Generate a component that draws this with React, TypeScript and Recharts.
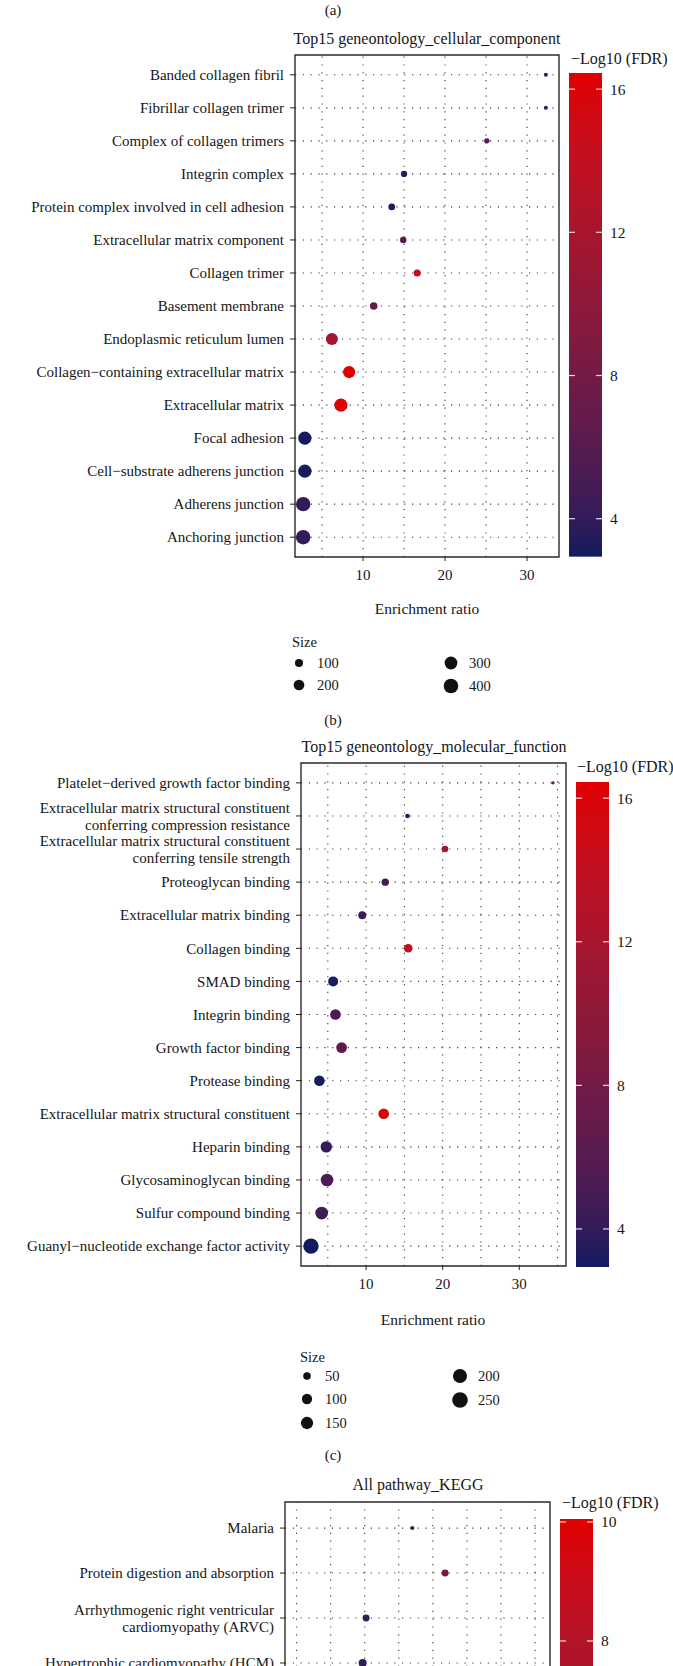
import React from 'react';
import {
  Cell,
  ReferenceArea,
  ReferenceLine,
  Scatter,
  ScatterChart,
  XAxis,
  YAxis,
  ZAxis,
} from 'recharts';

const FONT = '"Liberation Serif", "DejaVu Serif", serif';
const INK = '#161616';

// (b) geneontology cellular component, listed top to bottom
const ccTerms = [
  'Banded collagen fibril',
  'Fibrillar collagen trimer',
  'Complex of collagen trimers',
  'Integrin complex',
  'Protein complex involved in cell adhesion',
  'Extracellular matrix component',
  'Collagen trimer',
  'Basement membrane',
  'Endoplasmic reticulum lumen',
  'Collagen−containing extracellular matrix',
  'Extracellular matrix',
  'Focal adhesion',
  'Cell−substrate adherens junction',
  'Adherens junction',
  'Anchoring junction',
];
const ccRatio = [32.3, 32.3, 25.1, 15.0, 13.5, 14.9, 16.6, 11.3, 6.2, 8.3, 7.3, 2.9, 2.9, 2.7, 2.7];
const ccSize = [19, 20, 48, 70, 80, 75, 95, 110, 300, 310, 370, 370, 375, 440, 450];
const ccFdr = [4.0, 4.0, 6.0, 3.5, 3.3, 6.0, 14.5, 7.0, 11.5, 16.4, 16.2, 3.0, 3.1, 4.0, 4.1];
const ccSizeBreaks = [100, 200, 300, 400];

// (c) geneontology molecular function
const mfTerms = [
  'Platelet−derived growth factor binding',
  'Extracellular matrix structural constituent\nconferring compression resistance',
  'Extracellular matrix structural constituent\nconferring tensile strength',
  'Proteoglycan binding',
  'Extracellular matrix binding',
  'Collagen binding',
  'SMAD binding',
  'Integrin binding',
  'Growth factor binding',
  'Protease binding',
  'Extracellular matrix structural constituent',
  'Heparin binding',
  'Glycosaminoglycan binding',
  'Sulfur compound binding',
  'Guanyl−nucleotide exchange factor activity',
];
const mfRatio = [34.4, 15.4, 20.3, 12.5, 9.5, 15.5, 5.7, 6.0, 6.8, 3.9, 12.3, 4.8, 4.9, 4.2, 2.8];
const mfSize = [10, 21, 47, 60, 70, 82, 112, 126, 130, 125, 128, 147, 180, 185, 270];
const mfFdr = [7.8, 3.3, 11.5, 5.0, 4.6, 13.8, 3.2, 5.5, 6.5, 3.0, 16.0, 4.0, 5.2, 4.6, 2.9];
const mfSizeBreaks = [50, 100, 150, 200, 250];

// (d) KEGG pathways (only the top rows are on the page)
const keggTerms = [
  'Malaria',
  'Protein digestion and absorption',
  'Arrhythmogenic right ventricular\ncardiomyopathy (ARVC)',
  'Hypertrophic cardiomyopathy (HCM)',
];
const keggRatio = [11.0, 13.4, 7.6, 7.35];
const keggSize = [20, 35, 35, 42];
const keggFdr = [3.2, 5.0, 2.9, 2.8];

const fdrTicks = [4, 8, 12, 16];
const keggFdrTicks = [8, 10];

// ggplot-like gradient: navy -> red, mixed in Lab space
const LOW = '#111b60';
const HIGH = '#e00000';

function hexToRgb(h: string) {
  const n = parseInt(h.slice(1), 16);
  return [(n >> 16) & 255, (n >> 8) & 255, n & 255];
}
function toLab(rgb: number[]) {
  const lin = (c: number) => {
    c /= 255;
    return c <= 0.04045 ? c / 12.92 : Math.pow((c + 0.055) / 1.055, 2.4);
  };
  const [R, G, B] = rgb.map(lin);
  const X = (0.4124 * R + 0.3576 * G + 0.1805 * B) / 0.95047;
  const Y = 0.2126 * R + 0.7152 * G + 0.0722 * B;
  const Z = (0.0193 * R + 0.1192 * G + 0.9505 * B) / 1.08883;
  const f = (t: number) => (t > 0.008856 ? Math.cbrt(t) : 7.787 * t + 16 / 116);
  const fx = f(X), fy = f(Y), fz = f(Z);
  return [116 * fy - 16, 500 * (fx - fy), 200 * (fy - fz)];
}
function fromLab([L, a, b]: number[]) {
  const fy = (L + 16) / 116, fx = a / 500 + fy, fz = fy - b / 200;
  const inv = (t: number) => (t * t * t > 0.008856 ? t * t * t : (t - 16 / 116) / 7.787);
  const X = inv(fx) * 0.95047, Y = inv(fy), Z = inv(fz) * 1.08883;
  const R = 3.2406 * X - 1.5372 * Y - 0.4986 * Z;
  const G = -0.9689 * X + 1.8758 * Y + 0.0415 * Z;
  const B = 0.0557 * X - 0.204 * Y + 1.057 * Z;
  const g = (c: number) => {
    const v = c <= 0.0031308 ? 12.92 * c : 1.055 * Math.pow(c, 1 / 2.4) - 0.055;
    return Math.round(Math.min(1, Math.max(0, v)) * 255);
  };
  return `rgb(${g(R)},${g(G)},${g(B)})`;
}
const labLow = toLab(hexToRgb(LOW));
const labHigh = toLab(hexToRgb(HIGH));
function fdrColor(v: number, min: number, max: number) {
  const t = Math.min(1, Math.max(0, (v - min) / (max - min)));
  return fromLab(labLow.map((l, i) => l + (labHigh[i] - l) * t));
}

function zRadius(v: number, dom: number[], rng: number[]) {
  const area = rng[0] + ((v - dom[0]) / (dom[1] - dom[0])) * (rng[1] - rng[0]);
  return Math.sqrt(area / Math.PI);
}

function Label({ x, y, text, size = 15, align = 'center' }: any) {
  return (
    <div
      style={{
        position: 'absolute',
        left: x,
        top: y - 10,
        height: 20,
        lineHeight: '20px',
        fontSize: size,
        fontFamily: FONT,
        color: INK,
        whiteSpace: 'nowrap',
        transform: align === 'center' ? 'translateX(-50%)' : undefined,
      }}
    >
      {text}
    </div>
  );
}

function TermTick(props: any) {
  const { x, y, payload, terms } = props;
  const lines = String(terms[Math.round(payload.value) - 1] ?? '').split('\n');
  return (
    <text x={x} y={y} textAnchor="end" fontFamily={FONT} fontSize={15} fill={INK}>
      {lines.map((ln: string, i: number) => (
        <tspan key={i} x={x} y={y + (i - (lines.length - 1) / 2) * 17} dy="0.35em">
          {ln}
        </tspan>
      ))}
    </text>
  );
}

type PanelProps = {
  top: number;
  plotLeft: number;
  plotRight: number;
  plotTop: number;
  plotBottom: number;
  terms: string[];
  ratio: number[];
  size: number[];
  fdr: number[];
  xDomain: number[];
  xTicks: number[];
  xGrid: number[];
  yDomain: number[];
  zDomain: number[];
  zRange: number[];
  cmin: number;
  cmax: number;
  showX?: boolean;
};

function DotPanel(p: PanelProps) {
  const rows = p.terms.map((t, i) => ({
    idx: i + 1,
    name: t,
    ratio: p.ratio[i],
    size: p.size[i],
    fdr: p.fdr[i],
  }));
  const height = p.plotBottom - p.top + 30;
  const grid = '#3a3a3a';
  const showX = p.showX !== false;
  return (
    <div style={{ position: 'absolute', left: 0, top: p.top }}>
      <ScatterChart
        width={673}
        height={height}
        margin={{ top: p.plotTop - p.top, right: 673 - p.plotRight, bottom: 0, left: 0 }}
      >
        <XAxis
          type="number"
          dataKey="ratio"
          domain={p.xDomain}
          ticks={p.xTicks}
          allowDataOverflow
          interval={0}
          height={30}
          axisLine={false}
          tickLine={showX ? { stroke: '#222' } : false}
          tickSize={4}
          tickMargin={8}
          tick={showX ? { fill: INK, fontSize: 15, fontFamily: FONT } : false}
        />
        <YAxis
          type="number"
          dataKey="idx"
          domain={p.yDomain}
          reversed
          allowDataOverflow
          ticks={rows.map((r) => r.idx)}
          interval={0}
          width={p.plotLeft}
          axisLine={false}
          tickLine={{ stroke: '#222' }}
          tickSize={5}
          tickMargin={6}
          tick={(props: any) => <TermTick {...props} terms={p.terms} />}
        />
        <ZAxis type="number" dataKey="size" domain={p.zDomain} range={p.zRange} />
        {p.xGrid.map((v) => (
          <ReferenceLine key={'x' + v} x={v} stroke={grid} strokeWidth={1.1} strokeDasharray="1.2 6.6" />
        ))}
        {rows.map((r) => (
          <ReferenceLine key={'y' + r.idx} y={r.idx} stroke={grid} strokeWidth={1.1} strokeDasharray="1.2 6.6" />
        ))}
        <ReferenceArea
          x1={p.xDomain[0]}
          x2={p.xDomain[1]}
          y1={p.yDomain[0]}
          y2={p.yDomain[1]}
          fill="none"
          fillOpacity={0}
          stroke="#2a2a2a"
          strokeWidth={1.4}
        />
        <Scatter data={rows} isAnimationActive={false}>
          {rows.map((r) => (
            <Cell key={r.idx} fill={fdrColor(r.fdr, p.cmin, p.cmax)} />
          ))}
        </Scatter>
      </ScatterChart>
    </div>
  );
}

function ColorBar({ left, top, width, pxPerUnit, vmin, vmax, ticks, id }: any) {
  const h = (vmax - vmin) * pxPerUnit;
  const stops = Array.from({ length: 21 }, (_, i) => i / 20);
  return (
    <svg
      style={{ position: 'absolute', left, top, overflow: 'visible' }}
      width={width + 40}
      height={h}
    >
      <defs>
        <linearGradient id={id} x1="0" y1="0" x2="0" y2="1">
          {stops.map((s) => (
            <stop key={s} offset={s} stopColor={fdrColor(vmax - s * (vmax - vmin), vmin, vmax)} />
          ))}
        </linearGradient>
      </defs>
      <rect x={0} y={0} width={width} height={h} fill={`url(#${id})`} />
      {ticks.map((t: number) => {
        const y = (vmax - t) * pxPerUnit;
        return (
          <g key={t}>
            <line x1={0} x2={6} y1={y} y2={y} stroke="#fff" strokeOpacity={0.85} strokeWidth={1.2} />
            <line x1={width - 6} x2={width} y1={y} y2={y} stroke="#fff" strokeOpacity={0.85} strokeWidth={1.2} />
            <text x={width + 8} y={y} dy="0.35em" fontFamily={FONT} fontSize={15.5} fill={INK}>
              {t}
            </text>
          </g>
        );
      })}
    </svg>
  );
}

function SizeLegend({ left, top, breaks, cols, rowsY, zDomain, zRange }: any) {
  return (
    <div style={{ position: 'absolute', left: 0, top: 0 }}>
      <Label x={left} y={top} text="Size" size={14.5} align="left" />
      {breaks.map((b: number, i: number) => {
        const c = Math.floor(i / rowsY[0].length);
        const r = i % rowsY[0].length;
        const cx = cols[c];
        const cy = rowsY[c][r];
        if (cy === undefined) return null;
        const rad = zRadius(b, zDomain, zRange) + 0.4;
        return (
          <React.Fragment key={b}>
            <svg style={{ position: 'absolute', left: cx - 10, top: cy - 10 }} width={20} height={20}>
              <circle cx={10} cy={10} r={rad} fill="#111" />
            </svg>
            <Label x={cx + 18} y={cy} text={String(b)} size={14.5} align="left" />
          </React.Fragment>
        );
      })}
    </div>
  );
}

export default function App() {
  const ccZDom = [19, 450];
  const ccZRng = [12.6, 167];
  const mfZDom = [10, 270];
  const mfZRng = [9.1, 186];
  return (
    <div
      style={{
        position: 'absolute',
        left: 0,
        top: 0,
        width: 673,
        height: 1666,
        overflow: 'hidden',
        background: '#fff',
      }}
    >
      <Label x={333} y={10} text="(a)" />

      {/* (b) */}
      <Label x={427} y={39} text="Top15 geneontology_cellular_component" size={16} />
      <DotPanel
        top={45}
        plotLeft={295}
        plotRight={559}
        plotTop={55}
        plotBottom={557}
        terms={ccTerms}
        ratio={ccRatio}
        size={ccSize}
        fdr={ccFdr}
        xDomain={[1.7, 33.9]}
        xTicks={[10, 20, 30]}
        xGrid={[5, 10, 15, 20, 25, 30]}
        yDomain={[0.4, 15.6]}
        zDomain={ccZDom}
        zRange={ccZRng}
        cmin={2.94}
        cmax={16.45}
      />
      <Label x={571} y={59} text="−Log10 (FDR)" size={16} align="left" />
      <ColorBar left={569} top={73} width={33} pxPerUnit={35.8} vmin={2.94} vmax={16.45} ticks={fdrTicks} id="cb1" />
      <Label x={427} y={609} text="Enrichment ratio" size={15.5} />
      <SizeLegend
        left={292}
        top={642}
        breaks={ccSizeBreaks}
        cols={[299, 451]}
        rowsY={[[663, 685], [663, 686]]}
        zDomain={ccZDom}
        zRange={ccZRng}
      />
      <Label x={333} y={720} text="(b)" />

      {/* (c) */}
      <Label x={434} y={747} text="Top15 geneontology_molecular_function" size={16} />
      <DotPanel
        top={753}
        plotLeft={301}
        plotRight={566}
        plotTop={763}
        plotBottom={1266}
        terms={mfTerms}
        ratio={mfRatio}
        size={mfSize}
        fdr={mfFdr}
        xDomain={[1.5, 36.1]}
        xTicks={[10, 20, 30]}
        xGrid={[5, 10, 15, 20, 25, 30, 35]}
        yDomain={[0.4, 15.6]}
        zDomain={mfZDom}
        zRange={mfZRng}
        cmin={2.94}
        cmax={16.45}
      />
      <Label x={577} y={767} text="−Log10 (FDR)" size={16} align="left" />
      <ColorBar left={576} top={782} width={33} pxPerUnit={35.9} vmin={2.94} vmax={16.45} ticks={fdrTicks} id="cb2" />
      <Label x={433} y={1320} text="Enrichment ratio" size={15.5} />
      <SizeLegend
        left={300}
        top={1357}
        breaks={mfSizeBreaks}
        cols={[307, 460]}
        rowsY={[[1376, 1399, 1423], [1376, 1400]]}
        zDomain={mfZDom}
        zRange={mfZRng}
      />
      <Label x={333} y={1455} text="(c)" />

      {/* (d) */}
      <Label x={418} y={1485} text="All pathway_KEGG" size={16} />
      <DotPanel
        top={1492}
        plotLeft={285}
        plotRight={550}
        plotTop={1502}
        plotBottom={1690}
        terms={keggTerms}
        ratio={keggRatio}
        size={keggSize}
        fdr={keggFdr}
        xDomain={[1.65, 21.1]}
        xTicks={[5, 10, 15, 20]}
        xGrid={[2.5, 5, 7.5, 10, 12.5, 15, 17.5, 20]}
        yDomain={[0.42, 4.6]}
        zDomain={[20, 100]}
        zRange={[12.6, 150]}
        cmin={2.2}
        cmax={10.05}
        showX={false}
      />
      <Label x={562} y={1503} text="−Log10 (FDR)" size={16} align="left" />
      <ColorBar left={560} top={1519} width={33} pxPerUnit={59.5} vmin={2.2} vmax={10.05} ticks={keggFdrTicks} id="cb3" />
    </div>
  );
}
